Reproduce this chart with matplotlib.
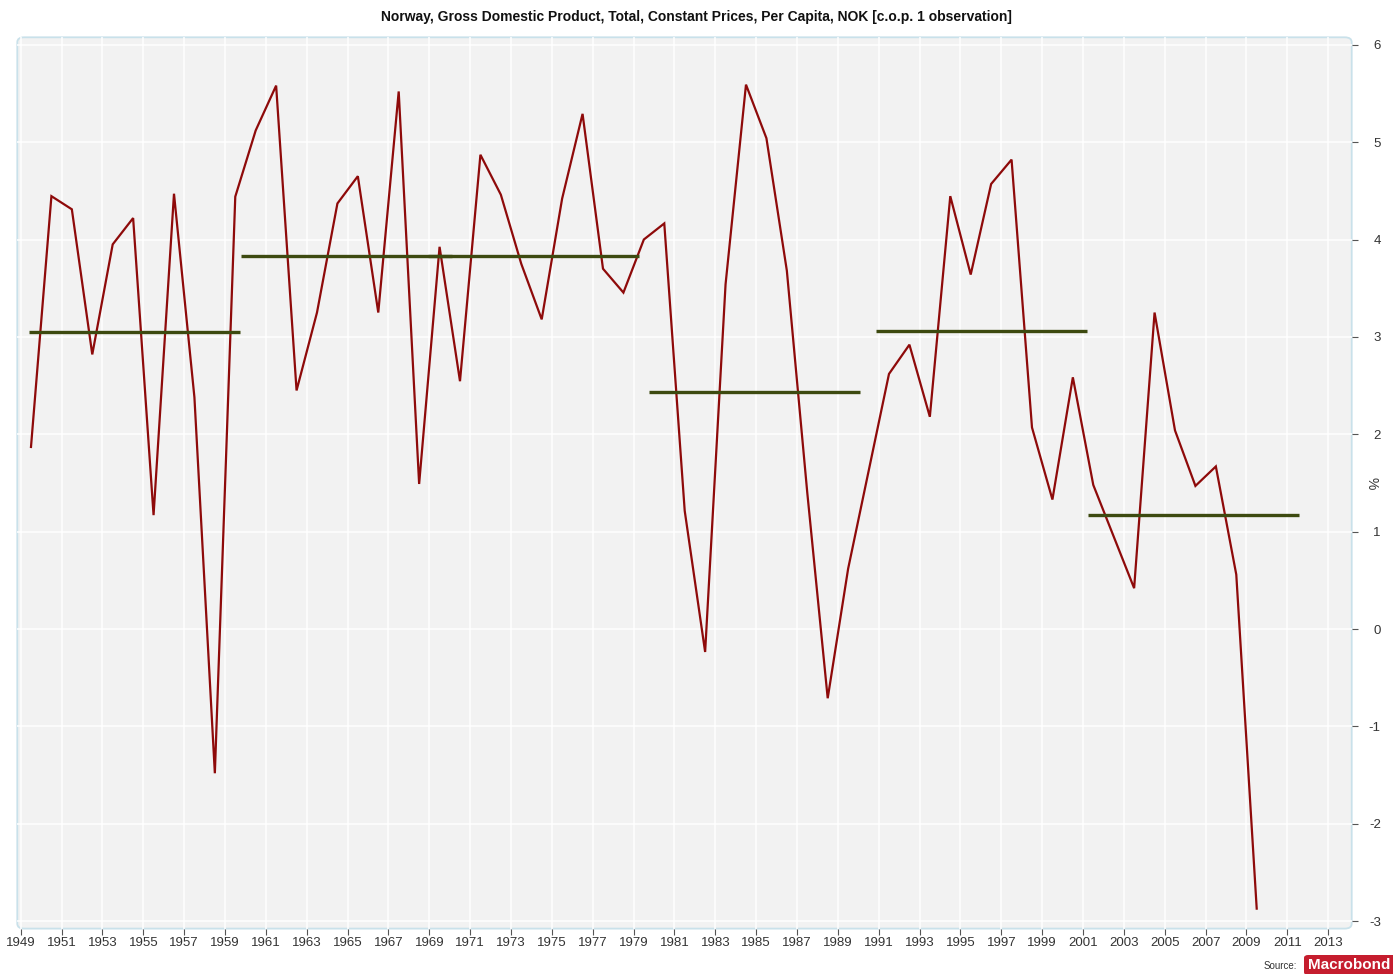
import matplotlib
matplotlib.use("Agg")
import matplotlib.pyplot as plt
from matplotlib.patches import FancyBboxPatch
from matplotlib import font_manager
import numpy as np

plt.rcParams['font.family'] = ['Liberation Sans', 'DejaVu Sans']

# ---- data ----
years = list(range(1949, 2010))
gdp_growth = [1.87, 4.445, 4.31, 2.82, 3.95, 4.22, 1.17, 4.47, 2.38, -1.48,
              4.44, 5.12, 5.58, 2.45, 3.25, 4.37, 4.65, 3.25, 5.52, 1.49,
              3.925, 2.545, 4.87, 4.46, 3.75, 3.18, 4.42, 5.29, 3.70, 3.455,
              4.0, 4.165, 1.215, -0.235, 3.54, 5.59, 5.04, 3.68, 1.4, -0.71,
              0.62, 1.62, 2.62, 2.92, 2.18, 4.445, 3.64, 4.57, 4.82, 2.07,
              1.33, 2.585, 1.48, 0.95, 0.42, 3.25, 2.04, 1.47, 1.67, 0.56,
              -2.87]
avg_start = [1949.41, 1959.77, 1968.93, 1979.77, 1990.87, 2001.23]
avg_end = [1959.74, 1970.11, 1979.25, 1990.10, 2001.20, 2011.57]
avg_value = [3.05, 3.83, 3.83, 2.43, 3.06, 1.17]
x_ticks = list(range(1949, 2014, 2))
y_ticks = [-3, -2, -1, 0, 1, 2, 3, 4, 5, 6]
title = "Norway, Gross Domestic Product, Total, Constant Prices, Per Capita, NOK [c.o.p. 1 observation]"

W, H = 1393, 974
fig = plt.figure(figsize=(W / 100, H / 100), dpi=100)
fig.patch.set_facecolor('white')

L, R, T, B = 17.3, 1351.7, 37.3, 928.6
ax = fig.add_axes([L / W, 1 - B / H, (R - L) / W, (B - T) / H])
ax.set_facecolor('none')
ax.set_zorder(2)

# rounded light-blue frame with grey fill
frame = FancyBboxPatch((L / W, 1 - B / H), (R - L) / W, (B - T) / H,
                       boxstyle="round,pad=0,rounding_size=0.005",
                       transform=fig.transFigure, facecolor='#f2f2f2',
                       edgecolor='#c9e1ea', linewidth=1.3, zorder=-1)
fig.patches.append(frame)

for s in ax.spines.values():
    s.set_visible(False)

ax.set_xlim(1948.83, 2014.15)
ax.set_ylim(-3.075, 6.076)

ax.set_xticks(x_ticks)
ax.set_xticklabels([str(y) for y in x_ticks])
ax.set_yticks(y_ticks)
ax.set_yticklabels([str(v) for v in y_ticks])
ax.yaxis.tick_right()
ax.yaxis.set_label_position('right')

ax.grid(True, color='white', linewidth=1.1, zorder=1)
ax.set_axisbelow(True)

ax.tick_params(axis='x', length=4, width=0.8, color='#555555', labelsize=9.5,
               labelcolor='#333333', pad=2)
ax.tick_params(axis='y', length=4, width=0.8, color='#555555', labelsize=9.5,
               labelcolor='#333333', pad=17)
for lab in ax.get_yticklabels():
    lab.set_horizontalalignment('right')

ax.set_ylabel('%', rotation=270, fontsize=10, color='#333333', labelpad=-2)

x_pos = [y + 0.5 for y in years]
ax.plot(x_pos, gdp_growth, color='#8e0a0a', linewidth=1.6, zorder=3,
        solid_joinstyle='miter')

for s0, s1, v in zip(avg_start, avg_end, avg_value):
    ax.plot([s0, s1], [v, v], color='#3d4a10', linewidth=2.4, zorder=4,
            solid_capstyle='butt')

fig.text(0.5, 1 - 17 / H, title, ha='center', va='center', fontsize=10,
         fontweight='bold', color='#111111')

# source / logo
fig.text(1297 / W, 1 - 966 / H, 'Source:', ha='right', va='center',
         fontsize=7, color='#333333')
logo = FancyBboxPatch((1304 / W, 1 - 975 / H), 95 / W, 20 / H,
                      boxstyle="round,pad=0,rounding_size=0.003",
                      transform=fig.transFigure, facecolor='#c51d2e',
                      edgecolor='none')
fig.patches.append(logo)
names = {f.name for f in font_manager.fontManager.ttflist}
logo_family = ['Liberation Sans Narrow'] if 'Liberation Sans Narrow' in names else ['Liberation Sans']
fig.text(1349 / W, 1 - 965 / H, 'Macrobond', ha='center', va='center',
         fontsize=12.5 if logo_family[0].endswith('Narrow') else 11,
         fontweight='bold', color='white', family=logo_family)

fig.savefig('out.png', dpi=100)
